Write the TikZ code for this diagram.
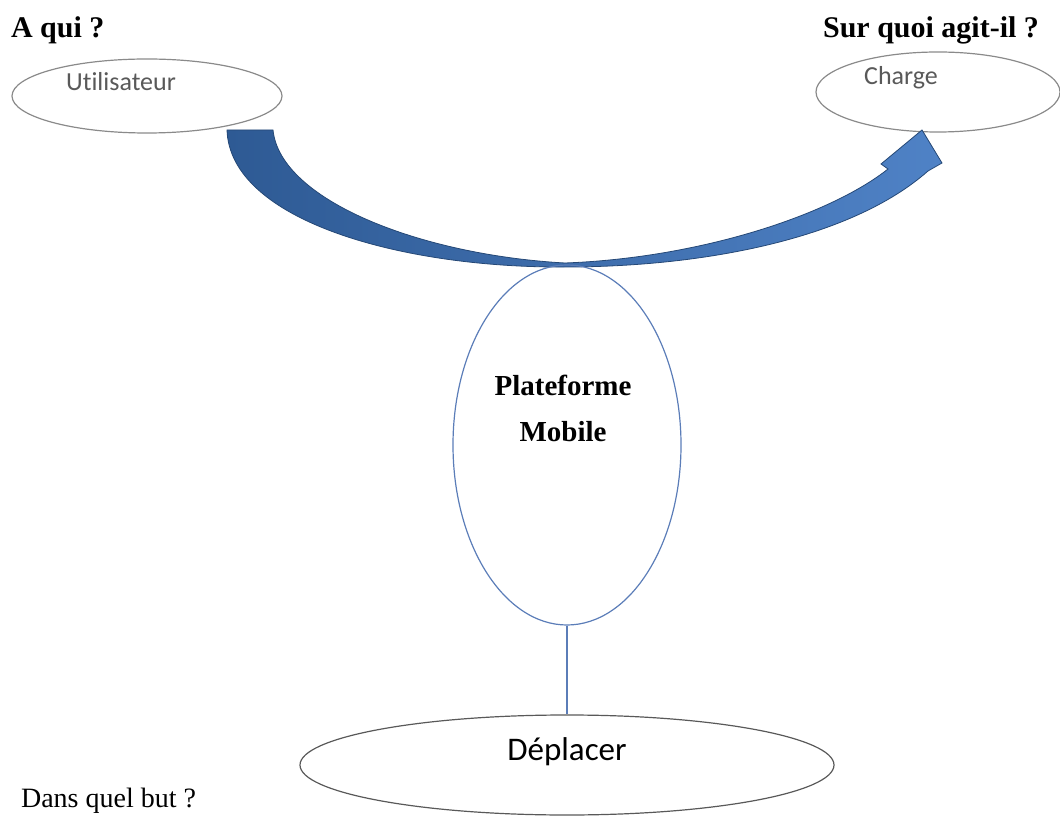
\documentclass[tikz,border=0pt]{standalone}
\usepackage{fontspec}
\setmainfont{Liberation Serif}
\newfontfamily\calibri[Ligatures=NoCommon]{Carlito}
\usetikzlibrary{shapes.geometric}
\definecolor{bleufonce}{HTML}{2E5A94}
\definecolor{bleuclair}{HTML}{4F82C6}
\definecolor{bleutrait}{HTML}{5B7DB8}
\definecolor{gristrait}{HTML}{8A8A8A}
\tikzset{
  bulle/.style={draw=gristrait, ellipse, inner sep=0pt, line width=0.6pt},
  question/.style={font=\fontsize{15}{17}\selectfont\bfseries},
  petit/.style={font=\calibri\fontsize{13}{15}\selectfont, text=black!65},
}
\begin{document}
\begin{tikzpicture}[x=0.5pt, y=-0.5pt]
  \useasboundingbox (0,0) rectangle (1060,823);
  \node[question, anchor=west] (aqui) at (4,30) {A qui ?};
  \node[question] (surquoi) at (931,30) {Sur quoi agit-il ?};
  \node[anchor=west, font=\fontsize{14}{16}\selectfont] (but) at (14,801) {Dans quel but ?};
  \node[bulle, minimum width=135pt, minimum height=37pt] (util) at (147,96) {};
  \node[petit] (utiltxt) at ([xshift=-13pt,yshift=7pt]util.center) {Utilisateur};
  \node[bulle, minimum width=122pt, minimum height=40pt] (charge) at (938,92) {};
  \node[petit] (chargetxt) at ([xshift=-18.5pt,yshift=7pt]charge.center) {Charge};
  % la fleche courbe
  \shade[left color=bleufonce, right color=bleuclair, draw=bleufonce!80!black, line width=0.4pt]
    (227,130) -- (273,130) .. controls (280,200) and (420,255) .. (565,263)
    .. controls (700,258) and (830,215) .. (888,169) -- (881,164) -- (922,130)
    -- (942,163) -- (928,171) .. controls (850,240) and (700,267) .. (565,267)
    .. controls (400,268) and (230,220) .. (227,130) -- cycle;
  \node[bulle, draw=bleutrait, minimum width=114pt, minimum height=180pt] (plate) at (567,445) {};
  \node[align=center, font=\fontsize{14.5}{23}\selectfont\bfseries] (platetxt) at ([xshift=-2pt,yshift=18.5pt]plate.center) {Plateforme\\Mobile};
  \node[bulle, draw=black!65, minimum width=267pt, minimum height=50pt] (depl) at (567,765) {};
  \node[font=\calibri\fontsize{16.5}{19}\selectfont] (depltxt) at ([yshift=6.5pt]depl.center) {Déplacer};
  \draw[bleutrait, line width=0.8pt] (plate.south) -- (depl.north);
\end{tikzpicture}
\end{document}
